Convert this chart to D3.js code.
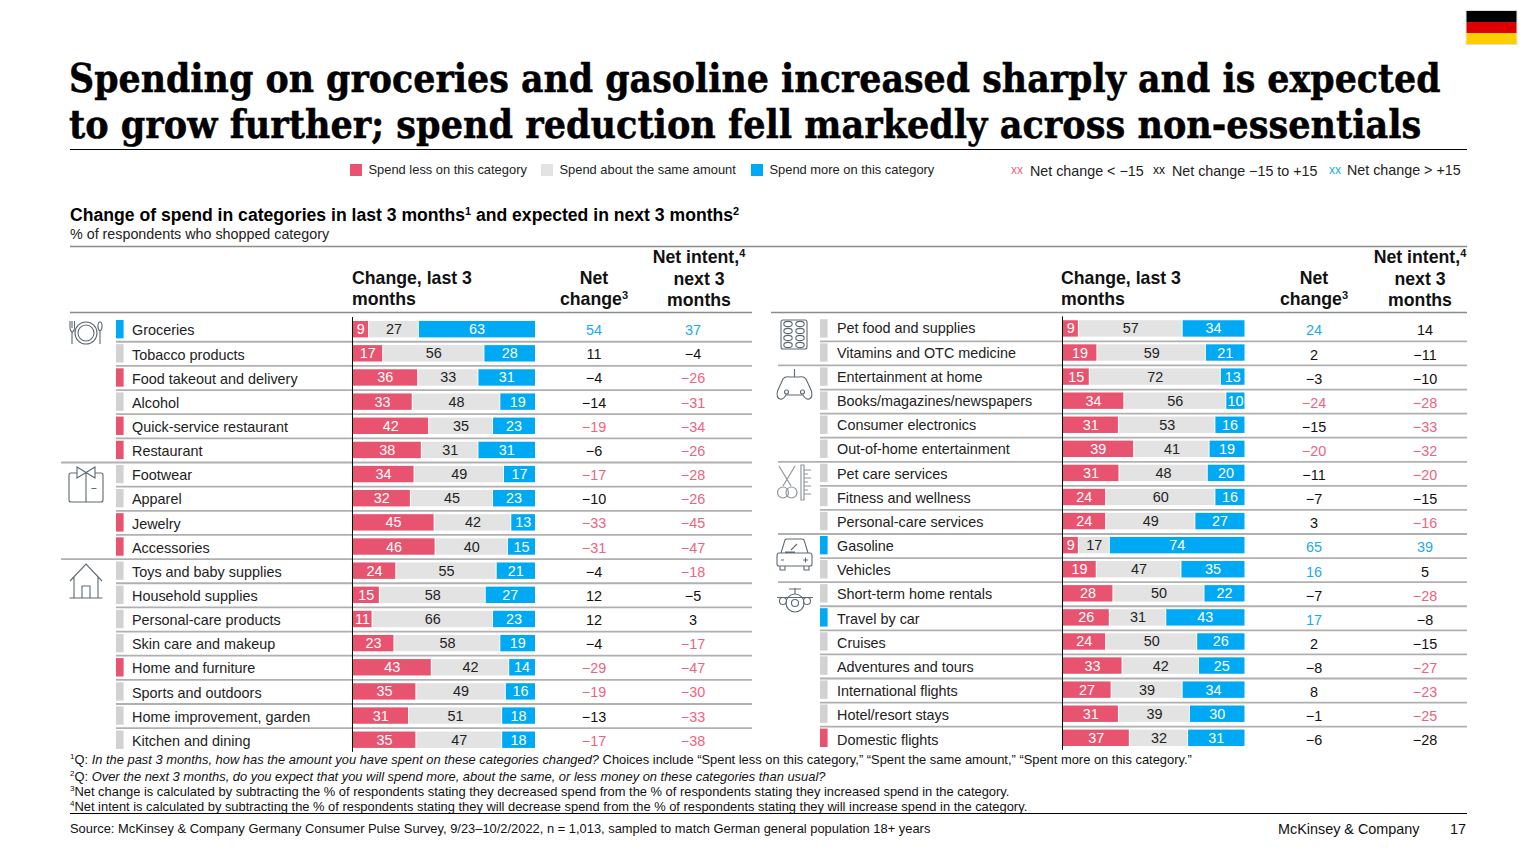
<!DOCTYPE html>
<html>
<head>
<meta charset="utf-8">
<script src="https://cdn.jsdelivr.net/npm/d3@7"></script>
<style>
  html, body { margin: 0; padding: 0; background: #fff; }
  svg { display: block; font-family: "Liberation Sans", Arial, sans-serif; }
</style>
</head>
<body>
<svg id="chart" width="1536" height="864"></svg>
<script>
// left table
const leftCategories = ["Groceries", "Tobacco products", "Food takeout and delivery", "Alcohol", "Quick-service restaurant", "Restaurant", "Footwear", "Apparel", "Jewelry", "Accessories", "Toys and baby supplies", "Household supplies", "Personal-care products", "Skin care and makeup", "Home and furniture", "Sports and outdoors", "Home improvement, garden", "Kitchen and dining"];
const leftLess = [9, 17, 36, 33, 42, 38, 34, 32, 45, 46, 24, 15, 11, 23, 43, 35, 31, 35];
const leftSame = [27, 56, 33, 48, 35, 31, 49, 45, 42, 40, 55, 58, 66, 58, 42, 49, 51, 47];
const leftMore = [63, 28, 31, 19, 23, 31, 17, 23, 13, 15, 21, 27, 23, 19, 14, 16, 18, 18];
const leftNet = [54, 11, -4, -14, -19, -6, -17, -10, -33, -31, -4, 12, 12, -4, -29, -19, -13, -17];
const leftIntent = [37, -4, -26, -31, -34, -26, -28, -26, -45, -47, -18, -5, 3, -17, -47, -30, -33, -38];
const leftFlags = ["more", "same", "less", "same", "less", "less", "same", "same", "less", "less", "same", "same", "same", "same", "less", "same", "same", "same"];
const leftSections = ["Footwear", "Toys and baby supplies"];

// right table
const rightCategories = ["Pet food and supplies", "Vitamins and OTC medicine", "Entertainment at home", "Books/magazines/newspapers", "Consumer electronics", "Out-of-home entertainment", "Pet care services", "Fitness and wellness", "Personal-care services", "Gasoline", "Vehicles", "Short-term home rentals", "Travel by car", "Cruises", "Adventures and tours", "International flights", "Hotel/resort stays", "Domestic flights"];
const rightLess = [9, 19, 15, 34, 31, 39, 31, 24, 24, 9, 19, 28, 26, 24, 33, 27, 31, 37];
const rightSame = [57, 59, 72, 56, 53, 41, 48, 60, 49, 17, 47, 50, 31, 50, 42, 39, 39, 32];
const rightMore = [34, 21, 13, 10, 16, 19, 20, 16, 27, 74, 35, 22, 43, 26, 25, 34, 30, 31];
const rightNet = [24, 2, -3, -24, -15, -20, -11, -7, 3, 65, 16, -7, 17, 2, -8, 8, -1, -6];
const rightIntent = [14, -11, -10, -28, -33, -32, -20, -15, -16, 39, 5, -28, -8, -15, -27, -23, -25, -28];
const rightFlags = ["same", "same", "same", "same", "same", "same", "same", "same", "same", "more", "same", "same", "more", "same", "same", "same", "same", "less"];
const rightSections = ["Entertainment at home", "Pet care services", "Gasoline", "Short-term home rentals"];

// printed black in the source even though it is below -15
const blackIntentRows = ["Domestic flights"];

const seriesKeys = ["less", "same", "more"];
const legendLabels = ["Spend less on this category", "Spend about the same amount", "Spend more on this category"];

const colors = { less: "#E8546F", same: "#E3E3E3", more: "#00A9F4" };
const flagColors = { less: "#E8546F", same: "#D2D2D2", more: "#00A9F4" };
const textRed = "#EE6480", textBlue = "#1BA9F2", ink = "#111", rule = "#B0B0B0";

const svg = d3.select("#chart");

// text with superscript / italic runs: parts are strings or {t, sup, it}
function addText(parent, x, y, parts, size, opts) {
  opts = opts || {};
  const t = parent.append("text")
    .attr("x", x).attr("y", y)
    .attr("font-size", size)
    .attr("fill", opts.fill || ink)
    .attr("font-weight", opts.bold ? 700 : 400)
    .attr("text-anchor", opts.anchor || "start");
  if (opts.family) t.attr("font-family", opts.family);
  [].concat(parts).forEach(function (p) {
    if (typeof p === "string") p = { t: p };
    const s = t.append("tspan").text(p.t);
    if (p.it) s.attr("font-style", "italic");
    if (p.sup) s.attr("font-size", size * 0.62).attr("baseline-shift", size * 0.36);
  });
  return t;
}

function netColor(v) {
  if (v < -15) return textRed;
  if (v > 15) return textBlue;
  return ink;
}

function drawPanel(p) {
  const rows = p.categories.map(function (c, i) {
    return { category: c, less: p.less[i], same: p.same[i], more: p.more[i] };
  });
  const y = d3.scaleBand().domain(p.categories).range([p.top, p.top + 18 * p.step]);
  const x = d3.scaleLinear().domain([0, 1]).range([p.barLeft, p.barRight]);
  const stacked = d3.stack().keys(seriesKeys).offset(d3.stackOffsetExpand)(rows);
  const barH = 16.4;
  const barY = function (c) { return y(c) + (y.bandwidth() - barH) / 2; };
  const mid = function (c) { return y(c) + y.bandwidth() / 2; };

  const g = svg.append("g");

  // row rules
  g.selectAll(".row-rule")
    .data(p.categories.slice(1))
    .enter().append("line")
    .attr("x1", function (c) { return p.sections.indexOf(c) >= 0 ? p.sectionLeft : p.flagLeft; })
    .attr("x2", p.ruleRight)
    .attr("y1", function (c) { return y(c) + p.ruleDy; })
    .attr("y2", function (c) { return y(c) + p.ruleDy; })
    .attr("stroke", rule).attr("stroke-width", 1.8);

  // flags next to the label
  g.selectAll(".flag")
    .data(p.categories)
    .enter().append("rect")
    .attr("x", p.flagLeft).attr("width", 7.6)
    .attr("y", function (c) { return barY(c) - 1; })
    .attr("height", barH + 2)
    .attr("fill", function (c, i) { return flagColors[p.flags[i]]; });

  // category labels (they sit a little lower row by row in the source)
  p.categories.forEach(function (c, i) {
    addText(g, p.labelX, mid(c) + p.labelDy + p.labelDrift * i + 5, c, 14.4, { fill: "#222" });
  });

  // stacked bars
  stacked.forEach(function (s) {
    g.selectAll(".bar-" + s.key)
      .data(s)
      .enter().append("rect")
      .attr("x", function (d) { return x(d[0]); })
      .attr("width", function (d) { return Math.max(0, x(d[1]) - x(d[0]) - (s.key === "more" ? 0 : 1)); })
      .attr("y", function (d) { return barY(d.data.category); })
      .attr("height", barH)
      .attr("fill", colors[s.key]);
    g.selectAll(".val-" + s.key)
      .data(s)
      .enter().append("text")
      .attr("x", function (d) { return (x(d[0]) + x(d[1])) / 2; })
      .attr("y", function (d) { return mid(d.data.category) + 5; })
      .attr("text-anchor", "middle")
      .attr("font-size", 14.4)
      .attr("fill", s.key === "same" ? "#222" : "#fff")
      .text(function (d) { return d.data[s.key]; });
  });

  // axis line at the bar base
  g.append("line")
    .attr("x1", p.barLeft).attr("x2", p.barLeft)
    .attr("y1", p.top).attr("y2", p.top + 18 * p.step)
    .attr("stroke", "#000").attr("stroke-width", 1);

  // net columns
  const fmt = function (v) { return String(v).replace("-", "\u2212"); };
  p.categories.forEach(function (c, i) {
    const ny = mid(c) + p.numDy + p.numDrift * i + 5;
    addText(g, p.netX, ny, fmt(p.net[i]), 14.4, { anchor: "middle", fill: netColor(p.net[i]) });
    const intentFill = blackIntentRows.indexOf(c) >= 0 ? ink : netColor(p.intent[i]);
    addText(g, p.intentX, ny, fmt(p.intent[i]), 14.4, { anchor: "middle", fill: intentFill });
  });

  // column headers
  addText(g, p.headX, 284, "Change, last 3", 17.7, { bold: true });
  addText(g, p.headX, 305, "months", 17.7, { bold: true });
  addText(g, p.netX, 284, "Net", 17.7, { bold: true, anchor: "middle" });
  addText(g, p.netX, 305, ["change", { t: "3", sup: true }], 17.7, { bold: true, anchor: "middle" });
  addText(g, p.intentHeadX, 263, ["Net intent,", { t: "4", sup: true }], 17.7, { bold: true, anchor: "middle" });
  addText(g, p.intentHeadX, 284.5, "next 3", 17.7, { bold: true, anchor: "middle" });
  addText(g, p.intentHeadX, 306, "months", 17.7, { bold: true, anchor: "middle" });
}

// flag
svg.append("rect").attr("x", 1466).attr("y", 10.5).attr("width", 51).attr("height", 34).attr("fill", "none").attr("stroke", "#ddd").attr("stroke-width", 1);
[["#000", 11], ["#DD0000", 22], ["#FFCE00", 33]].forEach(function (b) {
  svg.append("rect").attr("x", 1466.5).attr("y", b[1]).attr("width", 50).attr("height", 11).attr("fill", b[0]);
});

// title: DejaVu Serif runs wider than the source face, squeeze each line to the source width
const titleFont = "'DejaVu Serif', Georgia, serif";
function titleLine(label, baseline, targetWidth) {
  const t = addText(svg, 0, 0, label, 40, { bold: true, family: titleFont, fill: "#000" })
    .attr("stroke", "#000").attr("stroke-width", 0.5);
  const natural = t.node().getComputedTextLength();
  t.attr("transform", "translate(69," + baseline + ") scale(" + targetWidth / natural + ",1)");
}
titleLine("Spending on groceries and gasoline increased sharply and is expected", 92, 1372);
titleLine("to grow further; spend reduction fell markedly across non-essentials", 138, 1353);
svg.append("line").attr("x1", 70).attr("x2", 1467).attr("y1", 149.5).attr("y2", 149.5).attr("stroke", "#000").attr("stroke-width", 1);

// bar legend
const legendX = d3.scaleOrdinal().domain(seriesKeys).range([350, 541, 751]);
seriesKeys.forEach(function (k, i) {
  svg.append("rect").attr("x", legendX(k)).attr("y", 164).attr("width", 12).attr("height", 12).attr("fill", colors[k]);
  addText(svg, legendX(k) + 18.5, 174, legendLabels[i], 12.9, { fill: "#222" });
});

// net colour legend
[[1011, 1030, textRed, "Net change < \u221215", 175.5], [1153, 1172, ink, "Net change \u221215 to +15", 175.5], [1329, 1347, textBlue, "Net change > +15", 175]].forEach(function (n) {
  addText(svg, n[0], n[4] - 1.5, "xx", 12, { fill: n[2] });
  addText(svg, n[1], n[4], n[3], 14.3, { fill: "#222" });
});

// subtitle
addText(svg, 70, 221, ["Change of spend in categories in last 3 months", { t: "1", sup: true }, " and expected in next 3 months", { t: "2", sup: true }], 17.6, { bold: true, fill: "#000" });
addText(svg, 70, 239, "% of respondents who shopped category", 14.3, { fill: "#222" });

// header rules
svg.append("line").attr("x1", 70).attr("x2", 1467).attr("y1", 246.5).attr("y2", 246.5).attr("stroke", "#8c8c8c").attr("stroke-width", 1.6);
svg.append("line").attr("x1", 70).attr("x2", 752).attr("y1", 312.5).attr("y2", 312.5).attr("stroke", "#8c8c8c").attr("stroke-width", 1.6);
svg.append("line").attr("x1", 771).attr("x2", 1467).attr("y1", 312.5).attr("y2", 312.5).attr("stroke", "#8c8c8c").attr("stroke-width", 1.6);

drawPanel({
  categories: leftCategories, less: leftLess, same: leftSame, more: leftMore,
  net: leftNet, intent: leftIntent, flags: leftFlags, sections: leftSections,
  top: 317.1, step: 24.15, barLeft: 352.5, barRight: 535, flagLeft: 116, sectionLeft: 61, ruleRight: 752, ruleDy: 0.5,
  headX: 352, labelX: 132, labelDy: 1.2, labelDrift: 0, numDy: 1, numDrift: 0, netX: 594, intentX: 693, intentHeadX: 699
});
drawPanel({
  categories: rightCategories, less: rightLess, same: rightSame, more: rightMore,
  net: rightNet, intent: rightIntent, flags: rightFlags, sections: rightSections,
  top: 316.4, step: 24.08, barLeft: 1062.5, barRight: 1244.5, flagLeft: 820, sectionLeft: 778, ruleRight: 1467, ruleDy: 0.9,
  headX: 1061, labelX: 837, labelDy: 0, labelDrift: 0.1, numDy: 2, numDrift: 0.03, netX: 1314, intentX: 1425, intentHeadX: 1420
});

// category icons
const icons = svg.append("g").attr("fill", "none").attr("stroke", "#5E6A72").attr("stroke-width", 1.1);
[
  // plate, fork, spoon
  "M70 321V328Q70 331 72 332V344M72 321V328M74.5 321V328Q74.5 331 72.5 332",
  "M100 331V344M100 331C97 329 97.5 322 100 322C102.5 322 103 329 100 331",
  // shirt
  "M77 473H71Q69 473 69 475V500Q69 502 71 502H101Q103 502 103 500V475Q103 473 101 473H95M77 467L95 478V467L77 478ZM86 473V502M91.5 488.5H96.5",
  // house
  "M70 581L86 564L102 581M74 577V598M98 577V598M69.5 598H102.5M82 598V586H90V598",
  // pills
  "M783 320H805Q807 320 807 322V347Q807 349 805 349H783Q781 349 781 347V322Q781 320 783 320Z",
  // controller
  "M794.5 369V377M780 399Q776 398 777.5 391L783 379Q785 376 790 377H799Q804 376 806 379L811.5 391Q813 398 809 399Q806 400 803 395H786Q783 400 780 399Z",
  // car
  "M779 553H810Q812 553 812 556V564Q812 566 810 566H779Q777 566 777 564V556Q777 553 779 553ZM781 553L785 540Q785 539 787 539H802Q804 539 804 540L808 553M780 566V570H785V566M804 566V570H809V566M785 552L795 552M791 550L797 544M781 560H784M803 560H808M805.5 557.5V562.5",
  // plane
  "M777 597.5H813M795 588V594M789 589H801"
].forEach(function (d) { icons.append("path").attr("d", d); });
[[86, 333, 11], [86, 333, 8], [786.5, 392, 2], [802.5, 392, 2], [795, 603, 9], [795, 603, 3.5], [783, 601, 3.5], [807, 601, 3.5]].forEach(function (c) {
  icons.append("circle").attr("cx", c[0]).attr("cy", c[1]).attr("r", c[2]);
});
[324, 331, 338, 345].forEach(function (cy) {
  [788, 800].forEach(function (cx) {
    icons.append("ellipse").attr("cx", cx).attr("cy", cy).attr("rx", 4.2).attr("ry", 2.6);
  });
});

// scissors and comb are drawn lighter in the source
const lightIcons = svg.append("g").attr("fill", "none").attr("stroke", "#8F969B").attr("stroke-width", 1.2);
lightIcons.append("path").attr("d", "M779 466L791 486M795 466L783 486M801 465H804V500H801ZM804 470H811M804 474H808M804 478H811M804 482H808M804 486H811M804 490H808M804 494H811");
[[783, 492.5, 5.5], [791.5, 492.5, 5.5]].forEach(function (c) {
  lightIcons.append("circle").attr("cx", c[0]).attr("cy", c[1]).attr("r", c[2]);
});

// footnotes
const fnSize = 12.9;
addText(svg, 70, 764, [{ t: "1", sup: true }, "Q: ", { t: "In the past 3 months, how has the amount you have spent on these categories changed?", it: true }, " Choices include \u201CSpent less on this category,\u201D \u201CSpent the same amount,\u201D \u201CSpent more on this category.\u201D"], fnSize);
addText(svg, 70, 780.5, [{ t: "2", sup: true }, "Q: ", { t: "Over the next 3 months, do you expect that you will spend more, about the same, or less money on these categories than usual?", it: true }], fnSize);
addText(svg, 70, 795.5, [{ t: "3", sup: true }, "Net change is calculated by subtracting the % of respondents stating they decreased spend from the % of respondents stating they increased spend in the category."], fnSize);
addText(svg, 70, 810.5, [{ t: "4", sup: true }, "Net intent is calculated by subtracting the % of respondents stating they will decrease spend from the % of respondents stating they will increase spend in the category."], fnSize);
svg.append("line").attr("x1", 70).attr("x2", 1467).attr("y1", 813.5).attr("y2", 813.5).attr("stroke", "#000").attr("stroke-width", 1);
addText(svg, 70, 833, "Source: McKinsey & Company Germany Consumer Pulse Survey, 9/23\u201310/2/2022, n = 1,013, sampled to match German general population 18+ years", fnSize);
addText(svg, 1278, 834, "McKinsey & Company", 14.4);
addText(svg, 1466, 834, "17", 14.4, { anchor: "end" });
</script>
</body>
</html>
